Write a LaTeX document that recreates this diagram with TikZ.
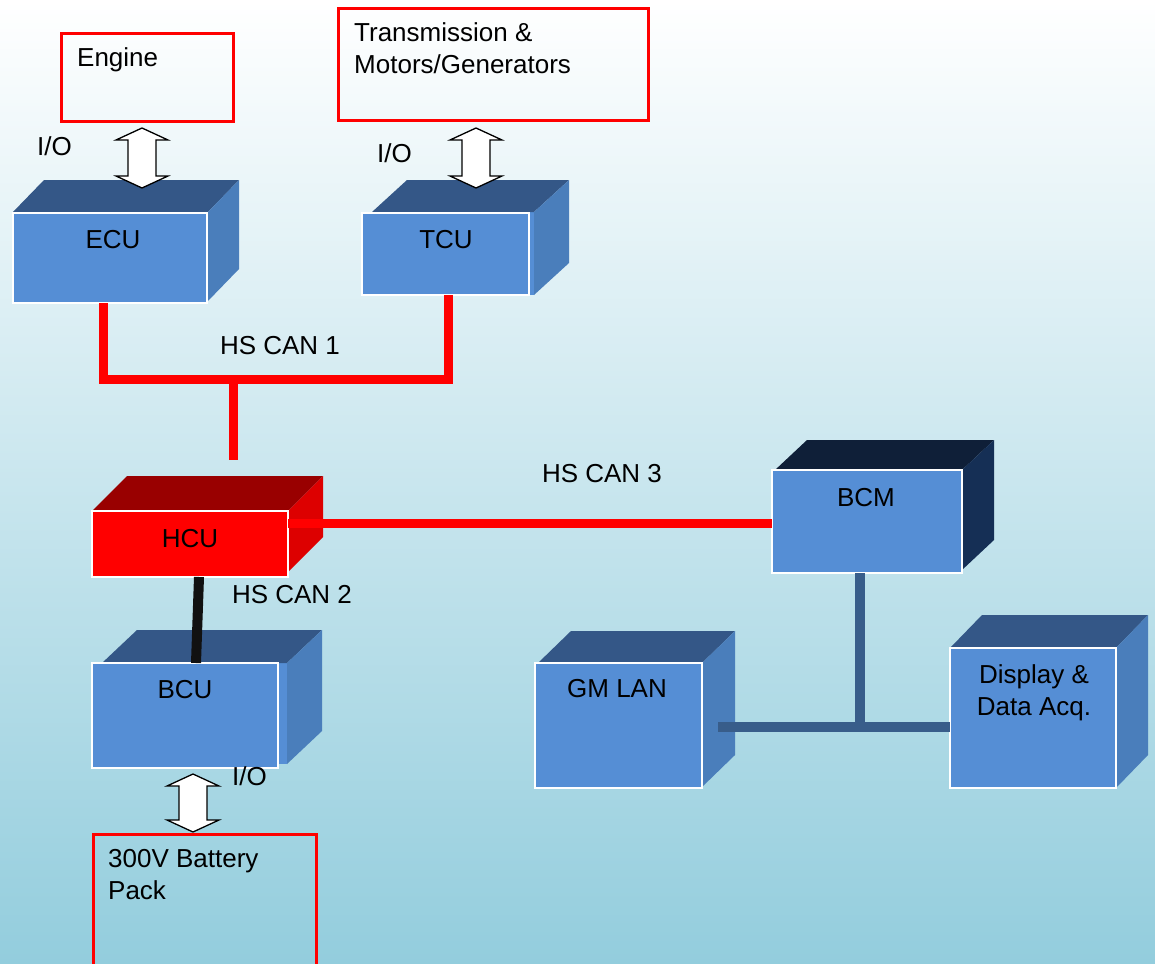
\documentclass[tikz,border=0pt]{standalone}
\usepackage{fontspec}
\setmainfont{Liberation Sans}
\usetikzlibrary{calc}

\definecolor{bgbottom}{RGB}{147,205,221}
\definecolor{frontblue}{RGB}{85,142,213}
\definecolor{topblue}{RGB}{52,87,135}
\definecolor{sideblue}{RGB}{74,126,187}
\definecolor{topnavy}{RGB}{15,31,56}
\definecolor{sidenavy}{RGB}{21,47,85}
\definecolor{topred}{RGB}{153,0,0}
\definecolor{sidered}{RGB}{221,0,0}
\definecolor{busblue}{RGB}{56,93,138}
\definecolor{canblack}{RGB}{17,17,17}

% cuboid body: front x0,y0,x1,y1; depth dx,dy; top, side and front colours
\newcommand\cuboid[9]{%
  \fill[#9] (#1,#2) rectangle (#3,#4);
  \fill[#7] (#1,#2) -- (#1+#5,#2-#6) -- (#3+#5,#2-#6) -- (#3,#2) -- cycle;
  \fill[#8] (#3,#2) -- (#3+#5,#2-#6) -- (#3+#5,#4-#6) -- (#3,#4) -- cycle;
}
% white double-headed I/O arrow: centre x, top tip y, bottom tip y
\newcommand\ioarrow[3]{%
  \draw[ioarr] (#1,#2) -- (#1+26,#2+12) -- (#1+14,#2+12) -- (#1+14,#3-12)
    -- (#1+26,#3-12) -- (#1,#3) -- (#1-26,#3-12) -- (#1-14,#3-12)
    -- (#1-14,#2+12) -- (#1-26,#2+12) -- cycle;
}

\tikzset{
  txt/.style={font=\fontsize{26}{32}\selectfont, inner sep=0pt, text=black},
  face/.style={draw=white, line width=2.5pt, inner sep=0pt, outer sep=0pt},
  iobox/.style={draw=red, line width=3pt, inner sep=0pt, outer sep=0pt},
  can1/.style={draw=red, line width=9pt, line join=miter},
  can2/.style={draw=canblack, line width=10pt},
  lanbus/.style={draw=busblue, line width=10pt},
  ioarr/.style={draw=black, fill=white, line width=1.3pt, line join=miter},
}

\begin{document}
\begin{tikzpicture}[x=1pt,y=-1pt]
\useasboundingbox (0,0) rectangle (1155,963);
\shade[top color=white, bottom color=bgbottom] (0,0) rectangle (1155,963);

% controlled devices
\node[iobox, minimum width=172, minimum height=88] (engine) at (147.5,77.5) {};
\node[iobox, minimum width=310, minimum height=112] (trans) at (493.5,64.5) {};
\begin{scope}
  \clip (0,0) rectangle (1155,963);
  \node[iobox, minimum width=223, minimum height=165] (battery) at (205,917) {};
\end{scope}

% control units
\cuboid{12}{213}{207}{302}{32}{33}{topblue}{sideblue}{frontblue}
\node[face, fill=frontblue, minimum width=194, minimum height=90] (ecu) at (110,258) {};

\cuboid{372}{212}{534}{295}{35}{32}{topblue}{sideblue}{frontblue}
\node[face, fill=frontblue, minimum width=167, minimum height=82] (tcu) at (445.5,254) {};

\cuboid{92}{511}{288}{572}{35}{35}{topred}{sidered}{red}
\node[face, fill=red, minimum width=196, minimum height=66] (hcu) at (190,544) {};

\cuboid{102}{663}{287}{764}{35}{33}{topblue}{sideblue}{frontblue}
\node[face, fill=frontblue, minimum width=186, minimum height=105] (bcu) at (185,715.5) {};

\cuboid{775}{470}{962}{570}{32}{30}{topnavy}{sidenavy}{frontblue}
\node[face, fill=frontblue, minimum width=190, minimum height=103] (bcm) at (867,521.5) {};

\cuboid{538}{663}{702}{787}{33}{32}{topblue}{sideblue}{frontblue}
\node[face, fill=frontblue, minimum width=167, minimum height=125] (gmlan) at (618.5,725.5) {};

\cuboid{950}{648}{1116}{788}{32}{33}{topblue}{sideblue}{frontblue}
\node[face, fill=frontblue, minimum width=166, minimum height=140] (display) at (1033,718) {};

% HS CAN 1
\coordinate (bus1) at (233.5,379);
\coordinate (hcutap) at (233.5,460);
\draw[can1] ([xshift=-7pt]ecu.south) |- (bus1) -| ([xshift=2.5pt]tcu.south);
\draw[can1] (bus1) -- (hcutap);

% HS CAN 3
\coordinate (can3) at (288,523);
\draw[can1] (can3) -- (can3 -| bcm.west);

% HS CAN 2
\draw[can2] ([xshift=9pt]hcu.south) -- ([xshift=11pt]bcu.north);

% GM LAN bus
\coordinate (tee) at (860,727);
\coordinate (gmtap) at (718,727);
\draw[lanbus] (bcm.south -| tee) -- (tee);
\draw[lanbus] (gmtap) -- (gmtap -| display.west);

% I/O arrows
\ioarrow{142}{128}{188}
\ioarrow{476}{128}{188}
\ioarrow{193}{774}{832}

% labels (multi-line labels are anchored at the baseline of their last line)
\node[txt, anchor=base west] (engine-t) at (77,67) {Engine};
\node[txt, anchor=base west, align=left] (trans-t) at (354,74) {Transmission \&\\Motors/Generators};
\node[txt, anchor=base west] (io1) at (37,155) {I/O};
\node[txt, anchor=base west] (io2) at (377,162) {I/O};
\node[txt, anchor=base] (ecu-t) at (113,248) {ECU};
\node[txt, anchor=base] (tcu-t) at (446,248) {TCU};
\node[txt, anchor=base] (can1-t) at (280,354) {HS CAN 1};
\node[txt, anchor=base] (hcu-t) at (190,547) {HCU};
\node[txt, anchor=base] (can2-t) at (292,603) {HS CAN 2};
\node[txt, anchor=base] (can3-t) at (602,482) {HS CAN 3};
\node[txt, anchor=base] (bcm-t) at (866,506) {BCM};
\node[txt, anchor=base] (bcu-t) at (185,698) {BCU};
\node[txt, anchor=base west] (io3) at (232,785) {I/O};
\node[txt, anchor=base west, align=left] (battery-t) at (108,899) {300V Battery\\Pack};
\node[txt, anchor=base] (gmlan-t) at (617,697) {GM LAN};
\node[txt, anchor=base, align=center] (display-t) at (1034,715) {Display \&\\Data Acq.};
\end{tikzpicture}
\end{document}
